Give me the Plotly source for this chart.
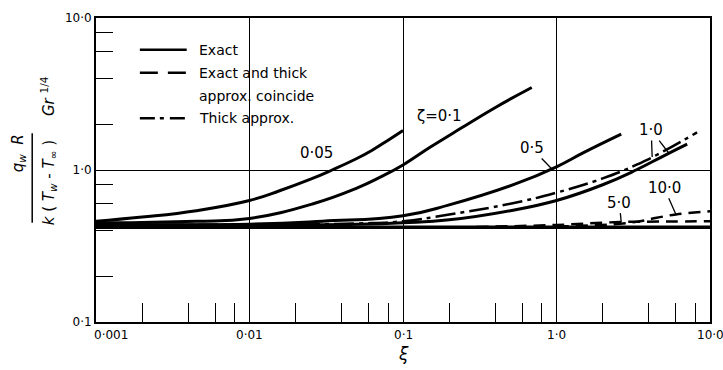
import numpy as np
import plotly.graph_objects as go

# ---------------- data ----------------
xi_base = [0.001, 0.01, 0.1, 1.0, 10.0]
val_base = [0.42, 0.42, 0.42, 0.42, 0.42]

xi_z005 = [0.001, 0.002, 0.0045, 0.01, 0.0157, 0.025, 0.0345, 0.05, 0.063, 0.08, 0.1]
val_z005 = [0.46, 0.49, 0.54, 0.63, 0.73, 0.87, 1.0, 1.19, 1.35, 1.57, 1.82]

xi_z01 = [0.001, 0.002, 0.0045, 0.01, 0.026, 0.05, 0.07, 0.1, 0.15, 0.238, 0.4, 0.69]
val_z01 = [0.45, 0.452, 0.46, 0.48, 0.60, 0.76, 0.89, 1.08, 1.41, 1.88, 2.58, 3.49]

xi_z05 = [0.001, 0.01, 0.03, 0.1, 0.2, 0.54, 1.0, 1.5, 2.64]
val_z05 = [0.44, 0.44, 0.46, 0.50, 0.59, 0.81, 1.05, 1.30, 1.72]

xi_z1_exact = [0.001, 0.01, 0.05, 0.1, 0.2, 0.5, 1.0, 2.0, 3.3, 5.0, 7.1]
val_z1_exact = [0.435, 0.435, 0.44, 0.45, 0.47, 0.54, 0.63, 0.80, 1.0, 1.24, 1.48]

xi_z1_thick = [0.001, 0.01, 0.05, 0.1, 0.2, 0.5, 1.0, 2.0, 3.3, 5.0, 8.24]
val_z1_thick = [0.435, 0.437, 0.445, 0.46, 0.51, 0.60, 0.71, 0.88, 1.08, 1.33, 1.77]

xi_z5 = [0.3, 1.0, 2.0, 2.6, 5.0, 10.0]
val_z5 = [0.422, 0.435, 0.45, 0.455, 0.458, 0.46]

xi_z10 = [1.0, 3.0, 4.5, 6.0, 10.0]
val_z10 = [0.425, 0.45, 0.485, 0.51, 0.535]

x_decades = [0.001, 0.01, 0.1, 1.0, 10.0]
x_ticktext = ["0·001", "0·01", "0·1", "1·0", "10·0"]
y_decades = [0.1, 1.0, 10.0]
y_ticktext = ["0·1", "1·0", "10·0"]
minor_mult = [2, 4, 6, 8]

legend_labels = ["Exact", "Exact and thick", "approx. coincide", "Thick approx."]

# ---------------- geometry ----------------
W, H = 723, 370
L, R, T, B = 96, 11, 16, 48
PW, PH = W - L - R, H - T - B
XLOG = (-3, 1)
YLOG = (-1, 1)
FONT = "DejaVu Sans"


def px_x(xi):
    return L + PW * (np.log10(xi) - XLOG[0]) / (XLOG[1] - XLOG[0])


def px_y(v):
    return T + PH * (YLOG[1] - np.log10(v)) / (YLOG[1] - YLOG[0])


def paper_x(px):
    return float((px - L) / PW)


def paper_y(py):
    return float((H - B - py) / PH)


def on_curve(xs, vs, xi):
    return float(10 ** np.interp(np.log10(xi), np.log10(xs), np.log10(vs)))


fig = go.Figure()

SOLID = dict(color="black", width=3)


def add(xs, vs, line):
    fig.add_trace(go.Scatter(x=xs, y=vs, mode="lines",
                             line=dict(shape="spline", smoothing=1.3, **line),
                             showlegend=False, hoverinfo="skip"))


DASH = "12px,7px"
DASHDOT = "20px,5px,4px,5px"

add(xi_base, val_base, dict(color="black", width=3.5))
add(xi_z005, val_z005, SOLID)
add(xi_z01, val_z01, SOLID)
add(xi_z05, val_z05, SOLID)
add(xi_z1_exact, val_z1_exact, SOLID)
add(xi_z1_thick, val_z1_thick, dict(color="black", width=2.5, dash=DASHDOT))
add(xi_z5, val_z5, dict(color="black", width=2.5, dash=DASH))
add(xi_z10, val_z10, dict(color="black", width=2.5, dash=DASH))

shapes = []
annotations = []

# white patch interrupting the 0.01 grid line behind the legend
shapes.append(dict(type="rect", xref="paper", yref="paper", layer="between",
                   x0=paper_x(px_x(0.01) - 6), x1=paper_x(px_x(0.01) + 6),
                   y0=paper_y(147), y1=paper_y(38), fillcolor="white", line=dict(width=0)))

# manual legend
leg_rows = [48, 71, 95, 117]
leg_styles = ["solid", "18px,10px", None, "15px,5px,4px,6px"]
for row, style, text in zip(leg_rows, leg_styles, legend_labels):
    if style is not None:
        shapes.append(dict(type="line", xref="paper", yref="paper",
                           x0=paper_x(140), x1=paper_x(187), y0=paper_y(row), y1=paper_y(row),
                           line=dict(color="black", width=2.5, dash=style)))
    annotations.append(dict(xref="paper", yref="paper", x=paper_x(197), y=paper_y(row),
                            xanchor="left", yanchor="middle", showarrow=False, text=text,
                            font=dict(family=FONT, size=14, color="black")))

# curve labels without leaders
LBL = dict(family=FONT, size=15, color="black")
annotations.append(dict(xref="x", yref="y", x=float(np.log10(0.0272)), y=float(np.log10(1.29)),
                        text="0·05", showarrow=False, font=LBL))
annotations.append(dict(xref="x", yref="y", x=float(np.log10(0.174)), y=float(np.log10(2.25)),
                        text="ζ=0·1", showarrow=False, font=LBL))


def leader(text, label_px, label_py, xs, vs, xi, visible=True):
    v = on_curve(xs, vs, xi)
    annotations.append(dict(xref="x", yref="y", x=float(np.log10(xi)), y=float(np.log10(v)), text=text,
                            showarrow=True, arrowhead=0, arrowwidth=1.3, arrowcolor="black",
                            standoff=0, ax=float(label_px - px_x(xi)), ay=float(label_py - px_y(v)),
                            font=dict(family=FONT, size=15,
                                      color="black" if visible else "rgba(0,0,0,0)")))


leader("0·5", 533, 147, xi_z05, val_z05, 0.93)
leader("1·0", 653, 129, xi_z1_thick, val_z1_thick, 4.2)
leader("1·0", 653, 129, xi_z1_exact, val_z1_exact, 5.4, visible=False)
leader("5·0", 621, 202, xi_z5, val_z5, 2.64)
leader("10·0", 666, 187, xi_z10, val_z10, 6.0)

# x tick labels
for i, (v, t) in enumerate(zip(x_decades, x_ticktext)):
    annotations.append(dict(xref="x", yref="paper", x=float(np.log10(v)), y=0, yanchor="top",
                            yshift=-4, xshift=15 if i == 0 else 0, text=t, showarrow=False,
                            font=dict(family=FONT, size=12, color="black")))

# x title
annotations.append(dict(xref="x", yref="paper", x=float(np.log10(0.1)), y=paper_y(354),
                        yanchor="middle", text="<i>ξ</i>",
                        showarrow=False, font=dict(family=FONT, size=17, color="black")))

# y title (fraction), rotated
YT = dict(family=FONT, size=15, color="black")
annotations.append(dict(xref="paper", yref="paper", x=paper_x(18), y=paper_y(152),
                        xanchor="center", yanchor="middle", textangle=-90,
                        text="<i>q<sub>w</sub></i>  <i>R</i>", showarrow=False, font=YT))
annotations.append(dict(xref="paper", yref="paper", x=paper_x(48), y=paper_y(150),
                        xanchor="center", yanchor="middle", textangle=-90,
                        text="<i>k</i> ( <i>T<sub>w</sub></i> - <i>T</i><sub>∞</sub> )"
                             "     <i>Gr</i> <sup>1/4</sup>",
                        showarrow=False, font=YT))
shapes.append(dict(type="line", xref="paper", yref="paper", x0=paper_x(32), x1=paper_x(32),
                   y0=paper_y(222), y1=paper_y(132), line=dict(color="black", width=1.5)))

x_minor = [m * d for d in x_decades[:-1] for m in minor_mult]
y_minor = [m * d for d in y_decades[:-1] for m in minor_mult]

axis_common = dict(type="log", showline=True, linewidth=2, linecolor="black", mirror=True,
                   ticks="inside", tickcolor="black", tickwidth=1.3,
                   showgrid=True, gridcolor="black", gridwidth=1, zeroline=False)

fig.update_layout(
    width=W, height=H, autosize=False,
    margin=dict(l=L, r=R, t=T, b=B, pad=0),
    paper_bgcolor="white", plot_bgcolor="white",
    showlegend=False,
    xaxis=dict(range=list(XLOG), tickvals=x_decades, showticklabels=False, ticklen=19,
               minor=dict(tickvals=x_minor, ticks="inside", ticklen=19, tickwidth=1.3,
                          tickcolor="black", showgrid=False),
               **axis_common),
    yaxis=dict(range=list(YLOG), tickvals=y_decades, ticktext=y_ticktext, ticklen=17,
               tickfont=dict(family=FONT, size=12, color="black"),
               minor=dict(tickvals=y_minor, ticks="inside", ticklen=17, tickwidth=1.3,
                          tickcolor="black", showgrid=False),
               **axis_common),
    shapes=shapes,
    annotations=annotations,
)

fig.write_html("out.html")
